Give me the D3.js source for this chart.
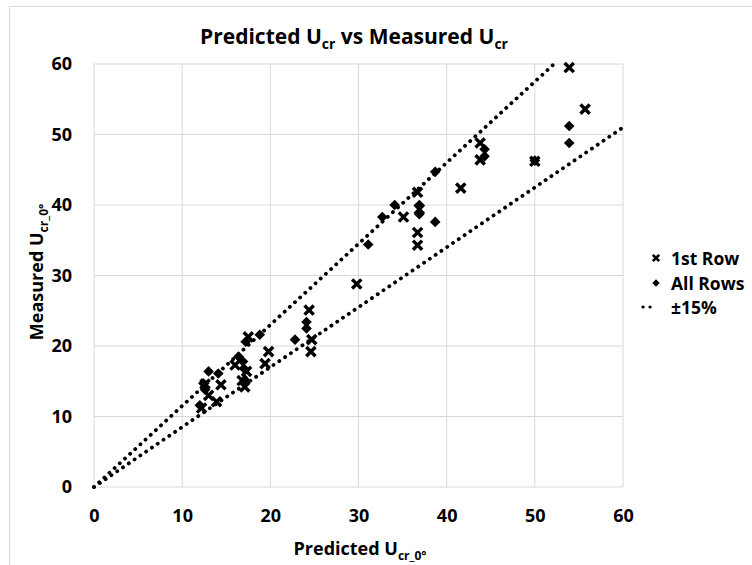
<!DOCTYPE html>
<html><head><meta charset="utf-8">
<script src="https://cdn.jsdelivr.net/npm/d3@7"></script>
<style>body{margin:0;background:#fff}svg text{font-family:"Open Sans",sans-serif;font-weight:700;fill:#000}</style>
</head><body><svg id="c" width="752" height="565"></svg>
<script>
// data
const firstRowPred = [12.2,13.0,13.9,12.6,14.4,16.0,17.3,17.1,16.8,17.5,19.4,19.8,24.4,24.7,24.6,29.8,35.1,36.7,36.7,36.7,36.9,41.6,43.8,43.8,50.0,53.9,55.7];
const firstRowMeas = [11.2,13.0,12.1,14.6,14.5,17.3,16.4,14.2,15.1,21.3,17.5,19.2,25.1,20.9,19.2,28.8,38.3,41.8,36.1,34.3,39.4,42.4,48.8,46.4,46.2,59.5,53.6];
const allRowsPred = [12.0,12.4,12.6,13.0,14.1,16.4,16.9,17.1,17.2,17.0,18.8,22.8,24.1,24.1,31.1,32.7,34.1,36.9,36.9,38.7,38.7,44.3,44.3,50.0,53.9,53.9];
const allRowsMeas = [11.6,14.7,13.8,16.4,16.1,18.5,17.8,15.2,20.6,16.8,21.6,20.9,23.4,22.5,34.4,38.3,40.0,40.0,38.7,44.7,37.6,47.9,46.9,46.3,51.2,48.8];
const bandFactors = [1.15, 0.85];
const ticks = [0,10,20,30,40,50,60];
const legendLabels = ["1st Row","All Rows","±15%"];

const svg = d3.select("#c");
const L=94, R=623, T=64, B=487;
const x = d3.scaleLinear().domain([0,60]).range([L,R]);
const y = d3.scaleLinear().domain([0,60]).range([B,T]);

// chart border (left/top visible)
svg.append("rect").attr("x",9.5).attr("y",6.5).attr("width",760).attr("height",580)
  .attr("fill","none").attr("stroke","#d9d9d9");

// grid
const g = svg.append("g");
g.selectAll(".vg").data(ticks).join("line").attr("x1",d=>x(d)).attr("x2",d=>x(d)).attr("y1",T).attr("y2",B)
  .attr("stroke","#d9d9d9").attr("stroke-width",1);
g.selectAll(".hg").data(ticks).join("line").attr("y1",d=>y(d)).attr("y2",d=>y(d)).attr("x1",L).attr("x2",R)
  .attr("stroke","#d9d9d9").attr("stroke-width",1);

const tf = "Open Sans, sans-serif";
const xa = svg.append("g").attr("transform",`translate(0,${B})`)
  .call(d3.axisBottom(x).tickValues(ticks).tickSize(0).tickPadding(22));
xa.select(".domain").remove();
xa.selectAll("text").style("font-size","18px").style("font-family",tf).style("font-weight","700");
const ya = svg.append("g").attr("transform",`translate(${L},0)`)
  .call(d3.axisLeft(y).tickValues(ticks).tickSize(0).tickPadding(22));
ya.select(".domain").remove();
ya.selectAll("text").style("font-size","18px").style("font-family",tf).style("font-weight","700");

// bands
const line = d3.line().x(d=>x(d[0])).y(d=>y(d[1]));
bandFactors.forEach(f=>{
  const xe = Math.min(60, 60/f);
  svg.append("path").attr("d",line([[0,0],[xe,xe*f]])).attr("fill","none").attr("stroke","#000")
    .attr("stroke-width",3.8).attr("stroke-linecap","round").attr("stroke-dasharray","0.1,6.9");
});

// markers
const crossPath = s => `M${-s},${-s}L${s},${s}M${-s},${s}L${s},${-s}`;
const dg = svg.append("g");
dg.selectAll("path.d").data(allRowsPred.map((p,i)=>[p,allRowsMeas[i]])).join("path")
  .attr("transform",d=>`translate(${x(d[0])},${y(d[1])})`)
  .attr("d",d3.symbol(d3.symbolDiamond2,72)).attr("fill","#000");
dg.selectAll("path.c").data(firstRowPred.map((p,i)=>[p,firstRowMeas[i]])).join("path")
  .attr("transform",d=>`translate(${x(d[0])},${y(d[1])})`)
  .attr("d",crossPath(4.6)).attr("stroke","#000").attr("stroke-width",3.4).attr("fill","none");

// title
const title = svg.append("text").attr("x",354).attr("y",44).attr("text-anchor","middle").style("font-size","21px");
title.append("tspan").text("Predicted U");
title.append("tspan").text("cr").attr("dy",5).style("font-size","14px");
title.append("tspan").text(" vs Measured U").attr("dy",-5);
title.append("tspan").text("cr").attr("dy",5).style("font-size","14px");

// x title
const xt = svg.append("text").attr("x",360).attr("y",555).attr("text-anchor","middle").style("font-size","18px");
xt.append("tspan").text("Predicted U");
xt.append("tspan").text("cr_0°").attr("dy",5).style("font-size","12px");

// y title
const yt = svg.append("text").attr("transform","translate(43,272) rotate(-90)").attr("text-anchor","middle").style("font-size","18px");
yt.append("tspan").text("Measured U");
yt.append("tspan").text("cr_0°").attr("dy",5).style("font-size","12px");

// legend
const lg = svg.append("g");
const ly = [258, 283, 307];
lg.append("path").attr("transform",`translate(656,${ly[0]})`).attr("d",crossPath(3.2)).attr("stroke","#000").attr("stroke-width",2.6);
lg.append("path").attr("transform",`translate(656,${ly[1]})`).attr("d",d3.symbol(d3.symbolDiamond2,34)).attr("fill","#000");
lg.append("path").attr("d",`M643,${ly[2]}L657,${ly[2]}`).attr("stroke","#000").attr("stroke-width",3.2)
  .attr("stroke-linecap","round").attr("stroke-dasharray","0.1,6.9");
lg.selectAll("text").data(legendLabels).join("text").attr("x",671).attr("y",(d,i)=>ly[i]+6.5)
  .style("font-size","17.5px").text(d=>d);
</script></body></html>
